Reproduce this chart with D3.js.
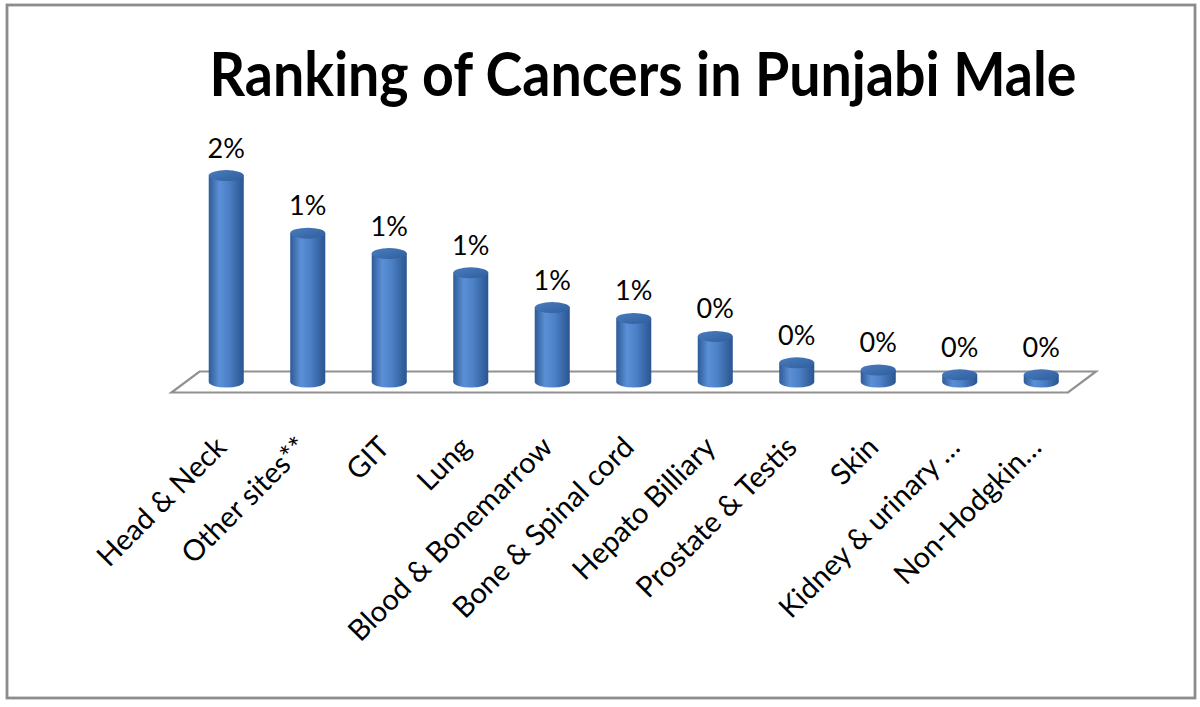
<!DOCTYPE html>
<html>
<head>
<meta charset="utf-8">
<script src="https://cdn.jsdelivr.net/npm/d3@7"></script>
<style>
  html, body { margin: 0; padding: 0; background: #fff; }
  svg { display: block; }
  text { font-family: Lato, "Noto Sans", sans-serif; fill: #000; }
</style>
</head>
<body>
<svg id="chart" width="1200" height="707"></svg>
<script>
const title = "Ranking of Cancers in Punjabi Male";
const categories = ["Head & Neck", "Other sites**", "GIT", "Lung", "Blood & Bonemarrow",
  "Bone & Spinal cord", "Hepato Billiary", "Prostate & Testis", "Skin",
  "Kidney & urinary …", "Non-Hodgkin…"];
const values = [0.0172, 0.0124, 0.0107, 0.0091, 0.0062, 0.0053, 0.0038, 0.0016, 0.0010, 0.0006, 0.0006];

const svg = d3.select("#chart");

// border
svg.append("rect").attr("x", 7).attr("y", 5).attr("width", 1188).attr("height", 693)
  .attr("fill", "#fff").attr("stroke", "#8c8c8c").attr("stroke-width", 2.8);

// title
svg.append("text").attr("transform", "translate(643,96) scale(1,1.1)").attr("text-anchor", "middle")
  .attr("font-size", 55.5).attr("font-weight", "bold").text(title);

const x = d3.scaleBand().domain(categories).range([185.5, 1082])
  .paddingInner(0.57).paddingOuter(0.285);
const y = d3.scaleLinear().domain([0, 0.02]).range([382, 142]);

const depthX = 14, depthY = 10.5;
const y0 = y(0);
const fx0 = x.range()[0], fx1 = x.range()[1];

// floor
const floorPts = [[fx0 + depthX, y0 - depthY], [fx1 + depthX, y0 - depthY],
                  [fx1 - depthX, y0 + depthY], [fx0 - depthX, y0 + depthY]];
svg.append("path").attr("d", d3.line()(floorPts) + "Z")
  .attr("fill", "#fff").attr("stroke", "#919191").attr("stroke-width", 2.2);

// gradients
const defs = svg.append("defs");
const g1 = defs.append("linearGradient").attr("id", "body").attr("x1", 0).attr("x2", 1).attr("y1", 0).attr("y2", 0);
[[0, "#2e5b97"], [0.3, "#5b8fd6"], [0.55, "#4e82c8"], [1, "#2a5590"]].forEach(s =>
  g1.append("stop").attr("offset", s[0]).attr("stop-color", s[1]));
const g2 = defs.append("linearGradient").attr("id", "top").attr("x1", 0).attr("x2", 1).attr("y1", 0).attr("y2", 1);
[[0, "#4a7cbf"], [1, "#2f5e9c"]].forEach(s =>
  g2.append("stop").attr("offset", s[0]).attr("stop-color", s[1]));

const rx = x.bandwidth() / 2, ry = 5.5;
const bars = svg.append("g").selectAll("g").data(categories).join("g");
bars.append("path")
  .attr("d", (d, i) => {
    const cx = x(d) + rx, yt = y(values[i]), yb = y0;
    return `M${cx - rx},${yt} L${cx - rx},${yb} A${rx},${ry} 0 0 0 ${cx + rx},${yb} L${cx + rx},${yt} Z`;
  })
  .attr("fill", "url(#body)");
bars.append("ellipse")
  .attr("cx", d => x(d) + rx)
  .attr("cy", (d, i) => y(values[i]))
  .attr("rx", rx).attr("ry", ry)
  .attr("fill", "url(#top)");

// data labels
const fmt = d3.format(".0%");
svg.append("g").selectAll("text").data(categories).join("text")
  .attr("x", d => x(d) + rx)
  .attr("y", (d, i) => y(values[i]) - 18)
  .attr("text-anchor", "middle")
  .attr("font-size", 27)
  .text((d, i) => fmt(values[i]));

// category labels
svg.append("g").selectAll("text").data(categories).join("text")
  .attr("transform", d => `translate(${x(d) + rx + 2},${449}) rotate(-45)`)
  .attr("text-anchor", "end")
  .attr("font-size", 29)
  .text(d => d);
</script>
</body>
</html>
